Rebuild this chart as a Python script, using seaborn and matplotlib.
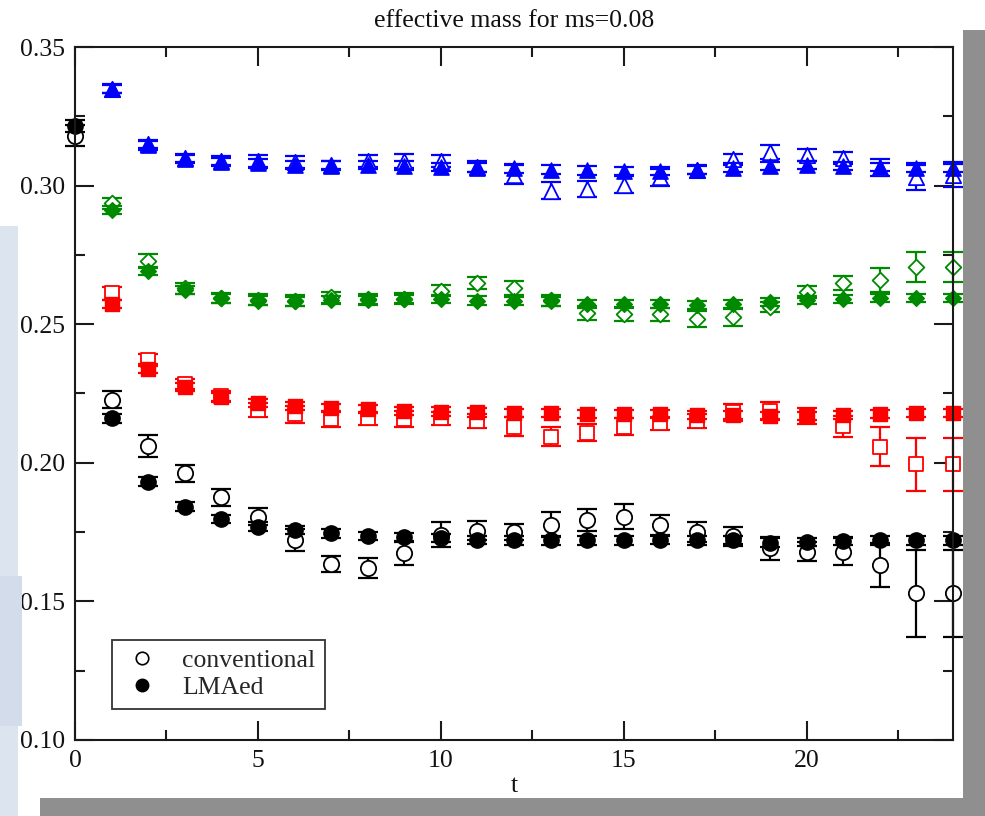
import numpy as np
import pandas as pd
import matplotlib
matplotlib.use("Agg")
import matplotlib.pyplot as plt
import seaborn as sns
from matplotlib.lines import Line2D
from matplotlib.patches import Rectangle
from matplotlib.ticker import MultipleLocator, FormatStrFormatter

sns.set_style("ticks")
plt.rcParams["font.family"] = ["Liberation Serif", "DejaVu Serif"]

# ---------------------------------------------------------------- data
t_all = list(range(0, 25))
t_heavy = list(range(1, 25))

# black circles (lightest channel)
black_conv = [0.3180, 0.2228, 0.2061, 0.1962, 0.1875, 0.1806, 0.1722, 0.1635,
              0.1620, 0.1673, 0.1740, 0.1755, 0.1750, 0.1776, 0.1794, 0.1806,
              0.1776, 0.1751, 0.1735, 0.1691, 0.1680, 0.1680, 0.1631, 0.1529,
              0.1529]
black_conv_err = [0.0038, 0.0030, 0.0040, 0.0030, 0.0030, 0.0030, 0.0040, 0.0030,
                  0.0035, 0.0040, 0.0045, 0.0035, 0.0030, 0.0045, 0.0040, 0.0045,
                  0.0035, 0.0035, 0.0035, 0.0040, 0.0035, 0.0050, 0.0080, 0.0157,
                  0.0157]
black_lma = [0.3215, 0.2160, 0.1932, 0.1842, 0.1797, 0.1770, 0.1758, 0.1745,
             0.1736, 0.1733, 0.1728, 0.1722, 0.1720, 0.1720, 0.1720, 0.1720,
             0.1722, 0.1720, 0.1722, 0.1712, 0.1715, 0.1717, 0.1720, 0.1720,
             0.1720]
black_lma_err = [0.0022] + [0.0015] * 24

# blue triangles
blue_conv = [0.3350, 0.3150, 0.3100, 0.3090, 0.3088, 0.3085, 0.3075, 0.3090,
             0.3090, 0.3090, 0.3068, 0.3040, 0.2982, 0.2988, 0.3003, 0.3030,
             0.3058, 0.3095, 0.3120, 0.3110, 0.3100, 0.3065, 0.3030, 0.3040]
blue_conv_err = [0.0015, 0.0015, 0.0015, 0.0017, 0.0022, 0.0020, 0.0015, 0.0022,
                 0.0025, 0.0022, 0.0020, 0.0035, 0.0030, 0.0030, 0.0030, 0.0030,
                 0.0015, 0.0020, 0.0025, 0.0022, 0.0022, 0.0030, 0.0045, 0.0045]
blue_lma = [0.3348, 0.3145, 0.3095, 0.3085, 0.3080, 0.3075, 0.3072, 0.3074,
            0.3072, 0.3068, 0.3065, 0.3062, 0.3058, 0.3055, 0.3053, 0.3053,
            0.3056, 0.3065, 0.3070, 0.3075, 0.3070, 0.3068, 0.3065, 0.3063]
blue_lma_err = [0.0015] * 24

# green diamonds
green_conv = [0.2937, 0.2729, 0.2630, 0.2595, 0.2588, 0.2585, 0.2597, 0.2590,
              0.2592, 0.2620, 0.2648, 0.2630, 0.2587, 0.2540, 0.2537, 0.2535,
              0.2519, 0.2525, 0.2563, 0.2617, 0.2648, 0.2660, 0.2707, 0.2707]
green_conv_err = [0.0020, 0.0025, 0.0020, 0.0018, 0.0020, 0.0020, 0.0020, 0.0020,
                  0.0020, 0.0020, 0.0022, 0.0025, 0.0020, 0.0025, 0.0025, 0.0022,
                  0.0030, 0.0030, 0.0018, 0.0022, 0.0025, 0.0043, 0.0054, 0.0054]
green_lma = [0.2912, 0.2693, 0.2623, 0.2593, 0.2585, 0.2582, 0.2587, 0.2587,
             0.2590, 0.2590, 0.2585, 0.2583, 0.2582, 0.2573, 0.2572, 0.2572,
             0.2569, 0.2572, 0.2580, 0.2587, 0.2592, 0.2595, 0.2595, 0.2595]
green_lma_err = [0.0015] * 24

# red squares
red_conv = [0.2611, 0.2371, 0.2284, 0.2240, 0.2190, 0.2175, 0.2158, 0.2160,
            0.2158, 0.2160, 0.2150, 0.2130, 0.2094, 0.2109, 0.2130, 0.2142,
            0.2150, 0.2182, 0.2188, 0.2168, 0.2132, 0.2058, 0.1994, 0.1994]
red_conv_err = [0.0025, 0.0020, 0.0018, 0.0018, 0.0025, 0.0030, 0.0030, 0.0025,
                0.0028, 0.0025, 0.0025, 0.0035, 0.0034, 0.0030, 0.0030, 0.0025,
                0.0025, 0.0030, 0.0030, 0.0028, 0.0038, 0.0070, 0.0095, 0.0095]
red_lma = [0.2573, 0.2340, 0.2274, 0.2236, 0.2215, 0.2205, 0.2198, 0.2193,
           0.2188, 0.2185, 0.2182, 0.2180, 0.2180, 0.2177, 0.2177, 0.2175,
           0.2173, 0.2172, 0.2168, 0.2170, 0.2172, 0.2175, 0.2180, 0.2180]
red_lma_err = [0.0015] * 24

x_ticks = [0, 5, 10, 15, 20]
y_ticks = [0.10, 0.15, 0.20, 0.25, 0.30, 0.35]
legend_labels = ["conventional", "LMAed"]
title_text = "effective mass for ms=0.08"
x_label = "t"

# ---------------------------------------------------------------- figure
W, H = 985, 816
fig = plt.figure(figsize=(W / 100, H / 100), dpi=100)
fig.patch.set_facecolor("white")

# slide backdrop: pale blue strip at left, grey drop shadow right/bottom
for (x0, y0, w, h, c) in [
    (0, 0, 18, 590, "#dce4ef"),
    (0, 90, 22, 150, "#d3dcea"),
    (963, 0, 22, 786, "#8f8f8f"),
    (40, 0, 945, 18, "#8f8f8f"),
]:
    fig.patches.append(Rectangle((x0 / W, y0 / H), w / W, h / H,
                                 transform=fig.transFigure, color=c,
                                 zorder=0, linewidth=0))

ax = fig.add_axes([75 / W, 76 / H, 878 / W, 693 / H])
ax.set_facecolor("white")

series = [
    ("#ff0000", "s", 9.5, t_heavy, red_conv, red_conv_err, red_lma, red_lma_err),
    ("#008a00", "D", 8.0, t_heavy, green_conv, green_conv_err, green_lma, green_lma_err),
    ("#0000ff", "^", 11.0, t_heavy, blue_conv, blue_conv_err, blue_lma, blue_lma_err),
    ("#000000", "o", 11.0, t_all, black_conv, black_conv_err, black_lma, black_lma_err),
]


def draw_bars(tt, yy, ee, color, z):
    cont = ax.errorbar(tt, yy, yerr=ee, fmt="none", ecolor=color,
                       elinewidth=1.6, capsize=7, capthick=1.6, zorder=z)
    for art in cont.get_children():
        art.set_clip_on(False)


for color, marker, msize, tt, conv, conv_err, lma, lma_err in series:
    df = pd.DataFrame({"t": tt, "conv": conv, "lma": lma})
    # conventional: open symbols
    draw_bars(tt, conv, conv_err, color, 2)
    sns.scatterplot(data=df, x="t", y="conv", marker=marker, s=msize ** 2,
                    facecolor="white", edgecolor=color, linewidth=1.3,
                    ax=ax, zorder=3, clip_on=False, legend=False)
    # LMAed: filled symbols
    draw_bars(tt, lma, lma_err, color, 4)
    sns.scatterplot(data=df, x="t", y="lma", marker=marker, s=msize ** 2,
                    facecolor=color, edgecolor=color, linewidth=1.0,
                    ax=ax, zorder=5, clip_on=False, legend=False)

# ---------------------------------------------------------------- axes
ax.set_xlim(0, 24)
ax.set_ylim(0.10, 0.35)
ax.set_xticks(x_ticks)
ax.set_yticks(y_ticks)
ax.xaxis.set_minor_locator(MultipleLocator(2.5))
ax.yaxis.set_minor_locator(MultipleLocator(0.025))
ax.yaxis.set_major_formatter(FormatStrFormatter("%.2f"))
ax.set_xlabel("")
ax.set_ylabel("")

for sp in ax.spines.values():
    sp.set_visible(True)
    sp.set_linewidth(1.5)
    sp.set_color("#1a1a1a")
    sp.set_zorder(6)

ax.tick_params(which="both", direction="in", top=True, right=True,
               width=1.5, color="#1a1a1a", labelsize=18.5, labelcolor="#111111")
ax.tick_params(which="major", length=14, pad=7)
ax.tick_params(which="minor", length=7)

fig.text(514 / W, 1 - 21 / H, title_text, ha="center", va="center",
         fontsize=18.5, color="#111111")
fig.text(514 / W, 1 - 786 / H, x_label, ha="center", va="center",
         fontsize=18.5, color="#111111")

handles = [
    Line2D([], [], linestyle="none", marker="o", markersize=9,
           markerfacecolor="white", markeredgecolor="black", markeredgewidth=1.2),
    Line2D([], [], linestyle="none", marker="o", markersize=9,
           markerfacecolor="black", markeredgecolor="black"),
]
leg = ax.legend(handles, legend_labels, loc="lower left",
                bbox_to_anchor=(37 / 878, 31 / 693), borderaxespad=0,
                frameon=True, fancybox=False, fontsize=18.5,
                handletextpad=0.75, handlelength=1.6, borderpad=0.38,
                labelspacing=0.15)
leg.get_frame().set_edgecolor("black")
leg.get_frame().set_linewidth(1.3)
leg.set_zorder(7)

fig.savefig("out.png", dpi=100, facecolor=fig.get_facecolor())
